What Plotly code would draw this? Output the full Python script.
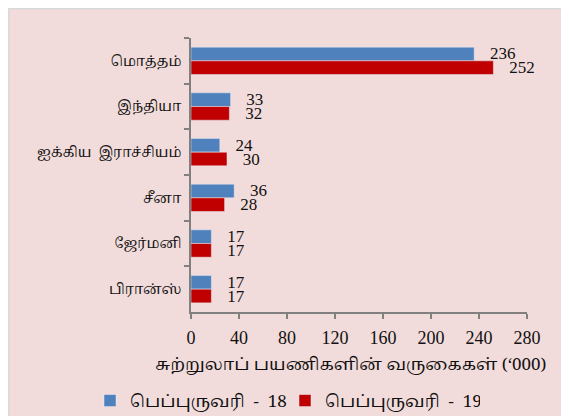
import plotly.graph_objects as go

categories = ["மொத்தம்", "இந்தியா", "ஐக்கிய  இராச்சியம்", "சீனா", "ஜேர்மனி", "பிரான்ஸ்"]
feb18 = [236, 33, 24, 36, 17, 17]
feb19 = [252, 32, 30, 28, 17, 17]
series_names = ["பெப்புருவரி  -  18", "பெப்புருவரி  -  19"]
x_ticks = [0, 40, 80, 120, 160, 200, 240, 280]
x_title = "சுற்றுலாப் பயணிகளின் வருகைகள் (‘000)"

num_font = "Liberation Serif, Times New Roman, serif"
tam_font = "Latha, Noto Serif Tamil, Noto Sans Tamil, Liberation Serif, serif"

fig = go.Figure()
for vals, name, color in [(feb18, series_names[0], "#4F81BD"), (feb19, series_names[1], "#C00000")]:
    fig.add_trace(go.Bar(
        y=categories, x=vals, name=name, orientation="h",
        marker=dict(color=color),
        text=vals, texttemplate="   %{x}", textposition="outside",
        constraintext="none",
        textfont=dict(family=num_font, size=17, color="#111111"),
        cliponaxis=False,
    ))

# page has an 8px body margin: figure occupies page pixels 8..569, 8..416
W, H = 561, 408
L, T = 183, 30
R, B = W - 519, H - 304
pw, ph = W - L - R, H - T - B

def px2x(p):  # page pixel -> paper x
    return (p - 8 - L) / pw

def py2y(p):  # page pixel -> paper y
    return (H - B - (p - 8)) / ph

fig.update_layout(
    width=W, height=H,
    margin=dict(l=L, r=R, t=T, b=B, autoexpand=False),
    paper_bgcolor="#F2DCDB",
    plot_bgcolor="rgba(0,0,0,0)",
    barmode="group",
    bargap=0.40,
    bargroupgap=0.0,
    showlegend=True,
    legend=dict(
        orientation="h",
        x=px2x(90), xanchor="left", y=py2y(401), yanchor="middle",
        font=dict(family=tam_font, size=17, color="#111111"),
        bgcolor="rgba(0,0,0,0)", traceorder="normal",
        entrywidth=150, entrywidthmode="pixels",
    ),
    xaxis=dict(
        range=[0, 280], tickvals=x_ticks, ticktext=[str(v) for v in x_ticks],
        showgrid=False, zeroline=False,
        showline=True, linecolor="#808080", linewidth=1.5,
        ticks="outside", ticklen=5, tickcolor="#808080", tickwidth=1.5,
        tickfont=dict(family=num_font, size=18, color="#111111"),
        ticklabelstandoff=4,
        automargin=False,
    ),
    yaxis=dict(
        autorange="reversed", type="category",
        showgrid=False, zeroline=False,
        showline=True, linecolor="#808080", linewidth=1.5,
        ticks="outside", ticklen=5, tickcolor="#808080", tickwidth=1.5,
        tickson="boundaries",
        tickfont=dict(family=tam_font, size=14, color="#111111"),
        ticklabelstandoff=5,
        automargin=False,
    ),
    annotations=[dict(
        text=x_title, xref="paper", yref="paper",
        x=px2x(350), y=py2y(365), xanchor="center", yanchor="middle",
        showarrow=False, font=dict(family=tam_font, size=17, color="#111111"),
    )],
    shapes=[dict(
        type="rect", xref="paper", yref="paper", layer="below",
        x0=px2x(8.75), x1=px2x(600), y0=py2y(500), y1=py2y(8.75),
        fillcolor="rgba(0,0,0,0)", line=dict(color="#D9D9D9", width=1.5),
    )],
)

fig.write_html("out.html")
